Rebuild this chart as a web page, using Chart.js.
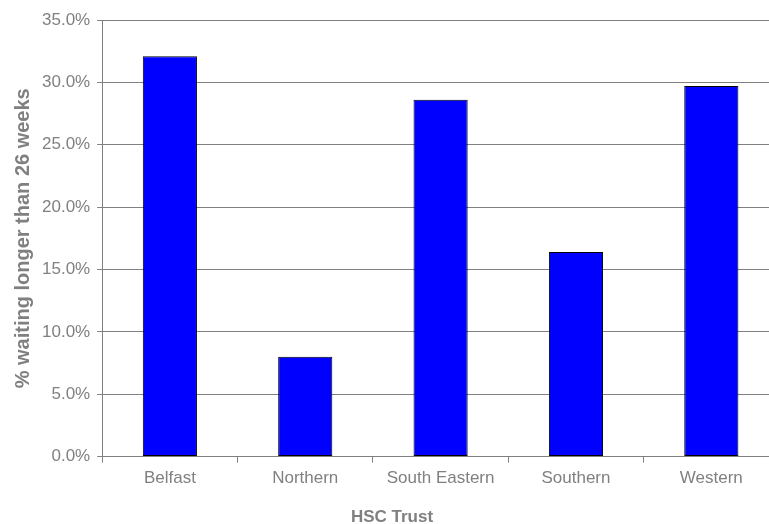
<!DOCTYPE html>
<html>
<head>
<meta charset="utf-8">
<script src="https://cdn.jsdelivr.net/npm/chart.js@4.4.1/dist/chart.umd.min.js"></script>
<style>
  html, body { margin: 0; padding: 0; background: #fff; overflow: hidden; }
  #wrap { width: 790px; height: 524px; }
</style>
</head>
<body>
<div id="wrap"><canvas id="bar_graph" width="790" height="524"></canvas></div>
<script>
const trusts = ['Belfast', 'Northern', 'South Eastern', 'Southern', 'Western'];
const waitingPct = [32.1, 8.0, 28.6, 16.4, 29.7];
const yMax = 35;
const yStep = 5;

const grey = '#808080';
const font = 'Arial, "Liberation Sans", sans-serif';

const chartElem = new Chart(
    document.getElementById('bar_graph'),
    {
        type: 'bar',
        data: {
            labels: trusts,
            datasets: [{
                label: '% waiting longer than 26 weeks',
                data: waitingPct,
                backgroundColor: '#0000ff',
                borderColor: '#000000',
                borderWidth: 1,
                borderSkipped: false,
                barPercentage: 0.4,
                categoryPercentage: 1
            }]
        },
        options: {
            responsive: false,
            animation: false,
            layout: {
                padding: { left: 5, top: 20, right: 11, bottom: -4 }
            },
            plugins: {
                legend: { display: false },
                tooltip: { enabled: false },
                title: {
                    display: true,
                    position: 'bottom',
                    text: 'HSC Trust',
                    color: grey,
                    font: { family: font, size: 17, weight: 'bold' },
                    padding: { top: 12.6, bottom: 0 }
                }
            },
            scales: {
                x: {
                    grid: {
                        offset: true,
                        drawOnChartArea: false,
                        drawTicks: true,
                        tickLength: 6,
                        color: grey
                    },
                    border: { color: grey, width: 1 },
                    ticks: {
                        color: grey,
                        font: { family: font, size: 17 },
                        padding: 6
                    }
                },
                y: {
                    min: 0,
                    max: yMax,
                    grid: {
                        color: grey,
                        tickLength: 5
                    },
                    border: { color: grey, width: 1 },
                    ticks: {
                        stepSize: yStep,
                        color: grey,
                        font: { family: font, size: 17 },
                        padding: 7,
                        callback: v => v.toFixed(1) + '%'
                    },
                    title: {
                        display: true,
                        text: '% waiting longer than 26 weeks',
                        color: grey,
                        font: { family: font, size: 20, weight: 'bold' },
                        padding: { top: 6, bottom: 0 }
                    }
                }
            }
        }
    }
);
</script>
</body>
</html>
